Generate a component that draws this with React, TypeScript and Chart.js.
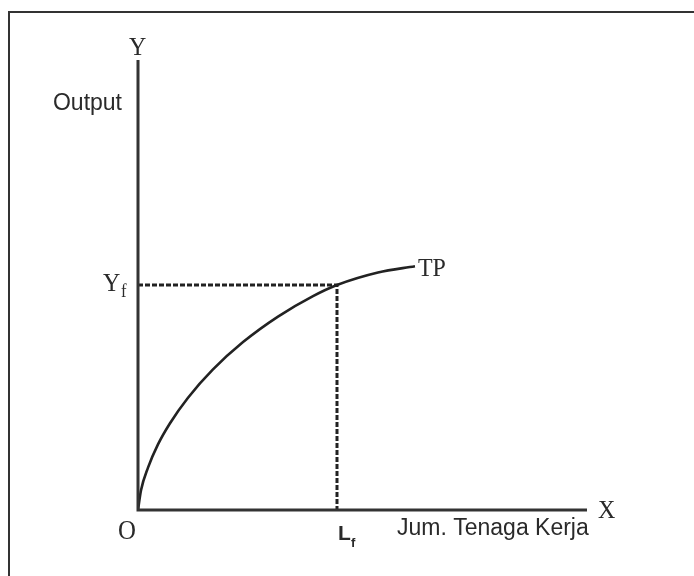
import React, { useEffect, useRef } from "react";
import { Chart, registerables } from "chart.js";

Chart.register(...registerables);

// Total product curve (labour -> output)
const labour = [0, 0.67, 2.23, 4.45, 7.13, 11.14, 16.7, 23.39, 31.18, 38.98, 44.32, 53.45, 61.69];
const output = [0, 4.38, 9.42, 14.58, 19.29, 24.96, 31.24, 37.31, 42.98, 47.53, 50, 52.78, 54.18];
const Lf = 44.32;
const Yf = 50;
const xMax = 100;
const yMax = 100;

const INK = "#2a2a2a";
const SERIF = "'Liberation Serif', 'DejaVu Serif', serif";
const SANS = "'Liberation Sans', Arial, sans-serif";

const decorPlugin = {
  id: "decor",
  beforeDraw(chart: any) {
    const ctx = chart.ctx as CanvasRenderingContext2D;
    ctx.save();
    ctx.fillStyle = "#ffffff";
    ctx.fillRect(0, 0, chart.width, chart.height);
    // frame
    ctx.strokeStyle = "#333333";
    ctx.lineWidth = 2;
    ctx.beginPath();
    ctx.moveTo(9, chart.height);
    ctx.lineTo(9, 12);
    ctx.lineTo(chart.width, 12);
    ctx.stroke();
    ctx.restore();
  },
  afterDatasetsDraw(chart: any) {
    const ctx = chart.ctx as CanvasRenderingContext2D;
    const xs = chart.scales.x;
    const ys = chart.scales.y;
    const x0 = xs.getPixelForValue(0);
    const x1 = xs.getPixelForValue(xMax);
    const y0 = ys.getPixelForValue(0);
    const y1 = ys.getPixelForValue(yMax);
    ctx.save();
    ctx.strokeStyle = "#333333";
    ctx.lineWidth = 3;
    ctx.lineCap = "butt";
    ctx.beginPath();
    ctx.moveTo(x0, y1);
    ctx.lineTo(x0, y0);
    ctx.lineTo(x1, y0);
    ctx.stroke();

    ctx.fillStyle = INK;
    ctx.textBaseline = "alphabetic";
    const serifText = (t: string, x: number, y: number, size: number) => {
      ctx.save();
      ctx.font = `${size}px ${SERIF}`;
      ctx.translate(x, y);
      ctx.scale(0.92, 1);
      ctx.fillText(t, 0, 0);
      ctx.restore();
    };
    ctx.textAlign = "left";
    // Y label
    serifText("Y", x0 - 9, y1 - 5, 26);
    // O origin
    serifText("O", x0 - 20, y0 + 29, 27);
    // X label
    serifText("X", x1 + 11, y0 + 8, 26);
    // Yf
    const yfP = ys.getPixelForValue(Yf);
    serifText("Y", x0 - 35, yfP + 6, 26);
    serifText("f", x0 - 17, yfP + 12, 18);
    // TP
    const tpX = xs.getPixelForValue(labour[labour.length - 1]);
    const tpY = ys.getPixelForValue(output[output.length - 1]);
    serifText("TP", tpX + 3, tpY + 10, 26);

    // Output
    ctx.font = `23px ${SANS}`;
    ctx.textAlign = "right";
    ctx.fillText("Output", x0 - 16, y1 + 50);
    // Jum. Tenaga Kerja
    ctx.textAlign = "left";
    const lfP = xs.getPixelForValue(Lf);
    ctx.fillText("Jum. Tenaga Kerja", lfP + 60, y0 + 25);
    // Lf
    ctx.font = `bold 21px ${SANS}`;
    ctx.fillText("L", lfP + 1, y0 + 30);
    ctx.font = `bold 13px ${SANS}`;
    ctx.fillText("f", lfP + 14, y0 + 37);
    ctx.restore();
  },
};

export default function App() {
  const ref = useRef<HTMLCanvasElement | null>(null);
  useEffect(() => {
    if (!ref.current) return;
    const tp = labour.map((x, i) => ({ x, y: output[i] }));
    const chart = new Chart(ref.current, {
      type: "line",
      data: {
        datasets: [
          {
            data: tp,
            borderColor: "#222222",
            borderWidth: 2.6,
            pointRadius: 0,
            cubicInterpolationMode: "monotone",
            fill: false,
          },
          {
            data: [
              { x: 0, y: Yf },
              { x: Lf, y: Yf },
              { x: Lf, y: 0 },
            ],
            borderColor: "#222222",
            borderWidth: 3,
            borderDash: [5, 2],
            pointRadius: 0,
            tension: 0,
            fill: false,
          },
        ],
      },
      options: {
        animation: false,
        responsive: false,
        layout: { padding: { left: 138, right: 107, top: 60, bottom: 66 } },
        plugins: { legend: { display: false }, tooltip: { enabled: false } },
        scales: {
          x: { type: "linear", min: 0, max: xMax, display: false },
          y: { type: "linear", min: 0, max: yMax, display: false },
        },
      },
      plugins: [decorPlugin],
    });
    return () => chart.destroy();
  }, []);
  return (
    <div style={{ position: "fixed", left: 0, top: 0, width: 694, height: 576 }}>
      <canvas ref={ref} width={694} height={576} style={{ width: 694, height: 576 }} />
    </div>
  );
}
